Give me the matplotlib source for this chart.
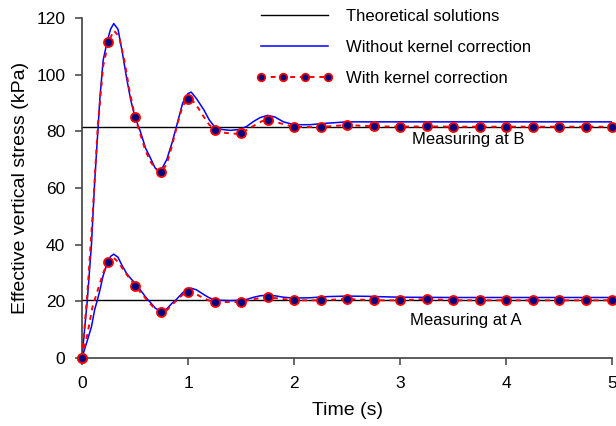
import numpy as np
import matplotlib.pyplot as plt

plt.rcParams['font.family'] = ['Liberation Sans', 'DejaVu Sans']

# 理论解
theory_B = 81.6
theory_A = 20.5

# 无核修正 (蓝线)
t_blue = [0, 0.05, 0.09, 0.12, 0.15, 0.17, 0.2, 0.24, 0.27, 0.3, 0.34, 0.38, 0.42, 0.46, 0.5, 0.55,
          0.6, 0.64, 0.69, 0.74, 0.8, 0.85, 0.89, 0.95, 1.0, 1.03, 1.08, 1.15, 1.2, 1.25, 1.32, 1.4,
          1.48, 1.55, 1.62, 1.68, 1.75, 1.82, 1.9, 2.0, 2.15, 2.3, 2.5, 2.7, 3.0, 3.5, 4.0, 4.5, 5.0]
B_blue = [0, 20, 40, 62, 80, 92, 105, 112, 116, 118, 116, 108, 99, 91, 85, 80,
          74, 71, 67, 65.8, 70, 76, 81.5, 90, 93.3, 93.8, 91.5, 87.5, 84, 81.6, 80.6, 80.3,
          80.6, 81.6, 83.5, 84.8, 85.6, 85, 83.3, 82.3, 82.3, 82.8, 83.3, 83.3, 83.3, 83.3, 83.3, 83.3, 83.3]
A_blue = [0, 6, 11, 17, 21, 24, 29, 33.5, 35.8, 36.6, 35.5, 32.5, 29.9, 28, 26.4, 24,
          21.5, 19.8, 17.6, 16.4, 17.3, 19.3, 20.6, 23, 24.4, 24.6, 24, 22.3, 21.2, 20.5, 20.3, 20.2,
          20.3, 20.6, 21.4, 21.9, 22.1, 21.9, 21.4, 21.1, 21.2, 21.6, 21.8, 21.7, 21.4, 21.3, 21.3, 21.3, 21.3]

# 有核修正 (红色虚线)
t_red = [0, 0.05, 0.1, 0.15, 0.2, 0.25, 0.3, 0.35, 0.4, 0.45, 0.5, 0.55, 0.6, 0.65, 0.7, 0.75, 0.8,
         0.85, 0.9, 0.95, 1.0, 1.05, 1.1, 1.15, 1.2, 1.25, 1.35, 1.45, 1.5, 1.6, 1.7, 1.75, 1.85,
         2.0, 2.25, 2.5, 2.75, 3.0, 3.25, 3.5, 4.0, 4.5, 5.0]
B_red = [0, 22, 50, 82, 103, 111.5, 115.5, 113.5, 105, 94, 85.1, 79, 73, 69, 66.5, 65.5, 68.5,
         75, 82.5, 89, 91.3, 90.5, 88, 85, 82.3, 80.6, 79.4, 79.1, 79.2, 81.5, 83.6, 84, 83,
         81.5, 81.5, 82.2, 81.7, 81.6, 81.7, 81.6, 81.6, 81.6, 81.6]
A_red = [0, 8, 18, 24, 30, 34, 35.3, 33.5, 30.5, 28, 25.5, 23.2, 21, 18.8, 17, 16.1, 16.8,
         18.8, 20.5, 22.3, 23.4, 23, 22, 21, 20.2, 19.8, 19.7, 19.7, 19.8, 20.6, 21.2, 21.3, 21,
         20.3, 20.3, 20.8, 20.3, 20.3, 20.8, 20.3, 20.3, 20.3, 20.3]
t_mark = np.arange(0, 5.01, 0.25)

fig = plt.figure(figsize=(6.16, 4.26), dpi=100)
ax = fig.add_axes([0.133, 0.160, 0.861, 0.798])

ax.plot([0, 5], [theory_B, theory_B], color='black', lw=1, label='Theoretical solutions')
ax.plot([0, 5], [theory_A, theory_A], color='black', lw=1)

ax.plot(t_blue, B_blue, color='#0000ff', lw=1.1, label='Without kernel correction')
ax.plot(t_blue, A_blue, color='#0000ff', lw=1.1)

for yv in [B_red, A_red]:
    ax.plot(t_red, yv, color='red', lw=1.4, ls=(0, (2.5, 2.5)), zorder=3)
    ym = np.interp(t_mark, t_red, yv)
    ax.plot(t_mark, ym, ls='none', marker='o', ms=6.5, mfc='#000080', mec='red', mew=1.3,
            clip_on=False, zorder=4)

# 图例用的组合句柄
ax.plot([], [], color='red', lw=1.4, ls=(0, (2.5, 2.5)), marker='o', ms=5.5,
        mfc='#000080', mec='red', mew=1.2, label='With kernel correction')

ax.text(3.64, 77, 'Measuring at B', ha='center', va='center', fontsize=12)
ax.text(3.62, 13.2, 'Measuring at A', ha='center', va='center', fontsize=12)

ax.set_xlim(0, 5)
ax.set_ylim(0, 120)
ax.set_xticks(range(0, 6))
ax.set_yticks(range(0, 121, 20))
ax.set_xlabel('Time (s)', fontsize=14, labelpad=8)
ax.set_ylabel('Effective vertical stress (kPa)', fontsize=14, labelpad=5)
ax.spines['top'].set_visible(False)
ax.spines['right'].set_visible(False)
for s in ['left', 'bottom']:
    ax.spines[s].set_color('#404040')
    ax.spines[s].set_linewidth(1.2)
ax.tick_params(direction='out', length=5, width=1.1, color='#404040', labelsize=12.5)
ax.tick_params(axis='x', pad=8)
ax.tick_params(axis='y', pad=7)

ax.legend(loc='upper left', bbox_to_anchor=(0.30, 1.07), frameon=False, fontsize=12,
          handlelength=4.6, handletextpad=0.8, labelspacing=0.95, numpoints=4)

fig.savefig('out.png', dpi=100)
